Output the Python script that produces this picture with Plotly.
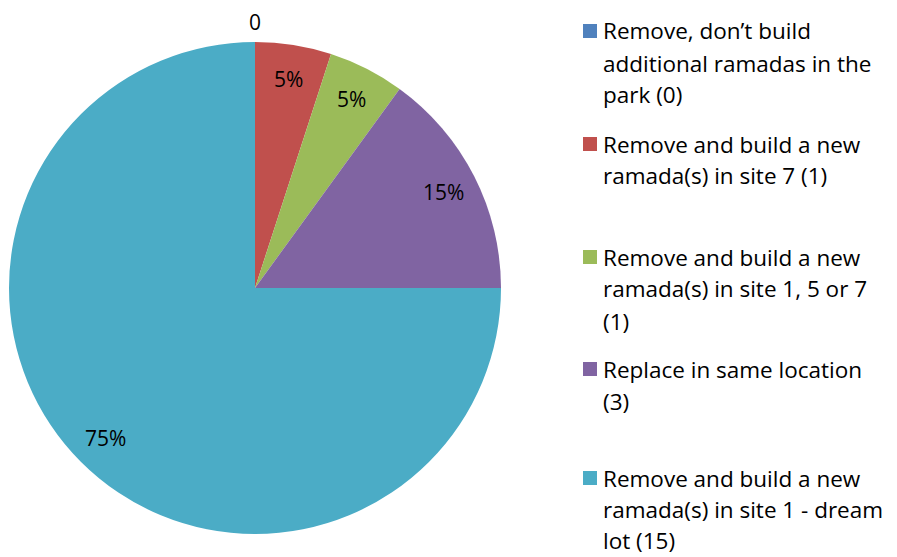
import math
import plotly.graph_objects as go

labels = [
    "Remove, don’t build<br>additional ramadas in the<br>park (0)",
    "Remove and build a new<br>ramada(s) in site 7 (1)",
    "Remove and build a new<br>ramada(s) in site 1, 5 or 7<br>(1)",
    "Replace in same location<br>(3)",
    "Remove and build a new<br>ramada(s) in site 1 - dream<br>lot (15)",
]
values = [0, 1, 1, 3, 15]
colors = ["#4F81BD", "#C0504D", "#9BBB59", "#8064A2", "#4BACC6"]

W, H = 897, 557
FONT = "Open Sans, Lato, sans-serif"
FS = 21
LFS = 22.5

# pie geometry (pixels)
CX, CY, R = 255, 288, 246

fig = go.Figure()
fig.add_trace(go.Pie(
    labels=labels,
    values=values,
    sort=False,
    direction="clockwise",
    rotation=0,
    marker=dict(colors=colors, line=dict(width=0)),
    textinfo="none",
    domain=dict(x=[(CX - R) / W, (CX + R) / W], y=[1 - (CY + R) / H, 1 - (CY - R) / H]),
    showlegend=False,
    hoverinfo="label+value+percent",
))

# data labels placed along each slice bisector
total = sum(values)
cum = 0
for v in values:
    frac_mid = (cum + v / 2) / total
    ang = 2 * math.pi * frac_mid
    if v == 0:
        rr = R + 20
        txt = f"{v}"
    else:
        rr = 0.86 * R
        txt = f"{round(100 * v / total)}%"
    px = CX + rr * math.sin(ang)
    py = CY - rr * math.cos(ang)
    fig.add_annotation(text=txt, xref="paper", yref="paper",
                       x=px / W, y=1 - py / H, xanchor="center", yanchor="middle",
                       showarrow=False, font=dict(family=FONT, size=FS, color="black"))
    cum += v

# custom legend
entry_tops = [31, 144, 257, 369, 478]
line_gaps = [32.0, 32.0, 32.0, 32.0, 31.0]
for i, (lab, col) in enumerate(zip(labels, colors)):
    yc = entry_tops[i]
    fig.add_shape(type="rect", xref="paper", yref="paper",
                  x0=583 / W, x1=597 / W, y0=1 - (yc - 7) / H, y1=1 - (yc + 7) / H,
                  fillcolor=col, line=dict(width=0))
    for j, line in enumerate(lab.split("<br>")):
        fig.add_annotation(text=line, xref="paper", yref="paper",
                           x=602 / W, y=1 - (yc + j * line_gaps[i]) / H,
                           xanchor="left", yanchor="middle", showarrow=False,
                           borderpad=0,
                           font=dict(family=FONT, size=LFS, color="black"))

fig.update_layout(
    width=W, height=H,
    margin=dict(l=0, r=0, t=0, b=0),
    paper_bgcolor="white",
    plot_bgcolor="white",
    font=dict(family=FONT, size=FS, color="black"),
)

fig.write_html("out.html", config={"displayModeBar": False},
               post_script="document.body.style.margin='0px';")
